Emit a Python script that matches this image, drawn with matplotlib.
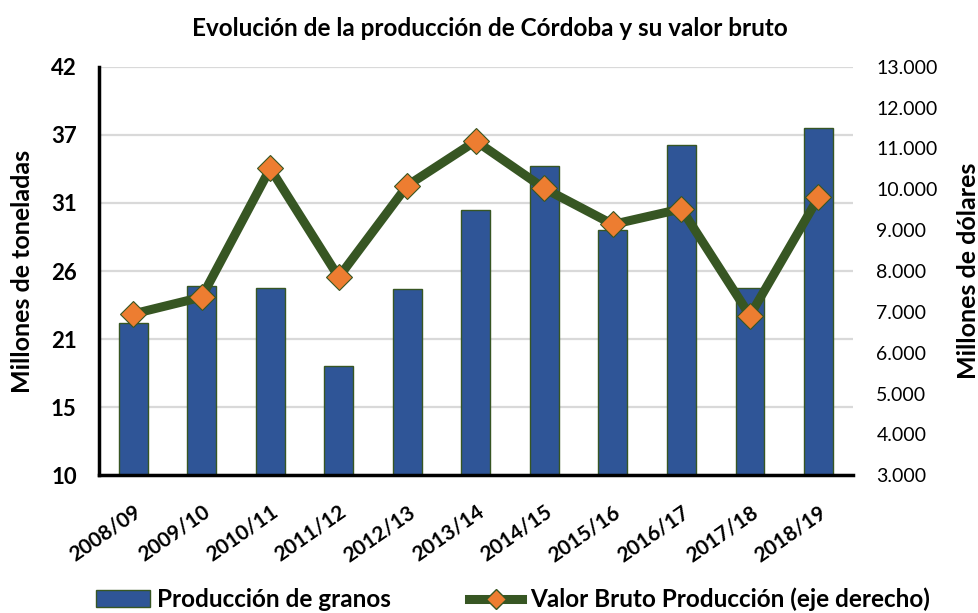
import numpy as np
import matplotlib
matplotlib.use('Agg')
import matplotlib.pyplot as plt
from matplotlib.ticker import FuncFormatter
from matplotlib.lines import Line2D
from matplotlib.patches import Patch

# --- Data ---
campanias = ['2008/09', '2009/10', '2010/11', '2011/12', '2012/13', '2013/14',
             '2014/15', '2015/16', '2016/17', '2017/18', '2018/19']
produccion = [21.9, 24.8, 24.7, 18.6, 24.6, 30.8, 34.2, 29.2, 35.9, 24.7, 37.2]   # millones de t
valor_bruto = [6950, 7360, 10510, 7850, 10090, 11180, 10020, 9140, 9520, 6910, 9800]  # millones USD

BAR_COLOR = '#2F5597'
LINE_COLOR = '#375623'
MARKER_COLOR = '#ED7D31'

plt.rcParams['font.family'] = ['Lato', 'DejaVu Sans']

fig = plt.figure(figsize=(9.79, 6.13), dpi=100)
ax = fig.add_axes([0.101, 0.2246, 0.770, 0.6666])
ax2 = ax.twinx()

x = np.arange(len(campanias))
ax.bar(x, produccion, width=0.42, color=BAR_COLOR, edgecolor=LINE_COLOR,
       linewidth=1, zorder=2)
ax2.plot(x, valor_bruto, color=LINE_COLOR, linewidth=6.5, marker='D',
         markersize=13.5, markerfacecolor=MARKER_COLOR, markeredgecolor=LINE_COLOR,
         markeredgewidth=0.8, zorder=3)

# eje izquierdo (toneladas)
ax.set_xlim(-0.5, len(campanias) - 0.5)
ax.set_ylim(10, 42)
ax.set_yticks(np.linspace(10, 42, 7))
ax.yaxis.set_major_formatter(FuncFormatter(lambda v, p: f'{v:.0f}'))
ax.grid(axis='y', color='#D9D9D9', linewidth=1.6, zorder=0)
ax.set_axisbelow(True)
ax.tick_params(axis='y', length=0, labelsize=16, pad=16)
for lab in ax.get_yticklabels():
    lab.set_fontweight('bold')
ax.set_ylabel('Millones de toneladas', fontsize=18, fontweight='bold', labelpad=12)

ax.set_xticks(x)
ax.set_xticklabels(campanias, rotation=35, ha='right', rotation_mode='anchor',
                   fontsize=15, fontweight='bold')
ax.tick_params(axis='x', length=0, pad=19)

# eje derecho (dolares)
ax2.set_ylim(3000, 13000)
ax2.set_yticks(np.arange(3000, 13001, 1000))
ax2.yaxis.set_major_formatter(FuncFormatter(lambda v, p: f'{int(v):,}'.replace(',', '.')))
ax2.tick_params(axis='y', length=0, labelsize=14, pad=17)
ax2.set_ylabel('Millones de dólares', fontsize=18, fontweight='bold', labelpad=14)

for a in (ax, ax2):
    a.spines['top'].set_visible(False)
    a.spines['right'].set_visible(False)
ax2.spines['left'].set_visible(False)
ax2.spines['bottom'].set_visible(False)
for s in ('left', 'bottom'):
    ax.spines[s].set_linewidth(2.5)
    ax.spines[s].set_color('black')
    ax.spines[s].set_zorder(5)

fig.suptitle('Evolución de la producción de Córdoba y su valor bruto',
             x=0.5, y=0.973, fontsize=17.5, fontweight='bold')

handles = [Patch(facecolor=BAR_COLOR, edgecolor=LINE_COLOR, linewidth=1),
           Line2D([0], [0], color=LINE_COLOR, linewidth=6.5, marker='D', markersize=10,
                  markerfacecolor=MARKER_COLOR, markeredgecolor=LINE_COLOR)]
fig.legend(handles, ['Producción de granos', 'Valor Bruto Producción (eje derecho)'],
           loc='center', bbox_to_anchor=(0.524, 0.022), ncol=2, frameon=False,
           prop={'size': 17.5, 'weight': 'bold'}, columnspacing=3.2,
           handlelength=2.2, handletextpad=0.3)

fig.savefig('out.png', dpi=100)
